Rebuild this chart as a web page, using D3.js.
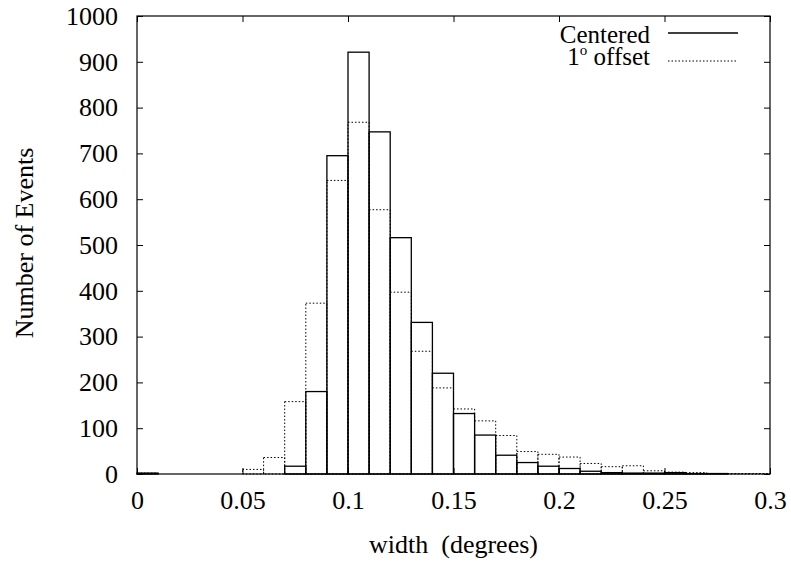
<!DOCTYPE html>
<html>
<head>
<meta charset="utf-8">
<script src="https://cdn.jsdelivr.net/npm/d3@7"></script>
<style>
  body { margin: 0; background: #fff; }
  text { font-family: "Liberation Serif", "Times New Roman", serif; fill: #000; }
</style>
</head>
<body>
<script>
// bin lower edges (width 0.01 degrees)
var binStarts = d3.range(0, 30).map(function(i) { return +(i * 0.01).toFixed(2); });
var binWidth = 0.01;

// Centered counts per bin
var centered = [2, 0, 0, 0, 0, 0, 0, 17, 180, 695,
                921, 747, 516, 331, 220, 132, 85, 41, 25, 17,
                12, 6, 3, 2, 2, 3, 1, 1, 0, 0];

// 1 degree offset counts per bin
var offset = [2, 0, 0, 0, 0, 10, 36, 158, 373, 641,
              768, 577, 397, 268, 188, 142, 116, 84, 49, 43,
              37, 23, 16, 18, 7, 4, 3, 1, 1, 1];

var xTicks = [0, 0.05, 0.1, 0.15, 0.2, 0.25, 0.3];
var yTicks = d3.range(0, 1001, 100);
var legendLabels = ["Centered", "1° offset"];

var svgWidth = 791;
var svgHeight = 562;

var margin = { top: 16, right: 21, bottom: 88, left: 137 };
var chartWidth = svgWidth - margin.left - margin.right;
var chartHeight = svgHeight - margin.top - margin.bottom;

var svg = d3.select("body")
  .append("svg")
  .attr("width", svgWidth)
  .attr("height", svgHeight)
  .attr("font-family", "'Liberation Serif', 'Times New Roman', serif");

var chartGroup = svg.append("g")
  .attr("transform", `translate(${margin.left}, ${margin.top})`);

var xScale = d3.scaleLinear().domain([0, 0.3]).range([0, chartWidth]);
var yScale = d3.scaleLinear().domain([0, 1000]).range([chartHeight, 0]);

// dotted boxes first
chartGroup.selectAll("rect.offset")
  .data(offset)
  .enter()
  .append("rect")
  .attr("class", "offset")
  .attr("x", (d, i) => xScale(binStarts[i]))
  .attr("width", (d, i) => xScale(binStarts[i] + binWidth) - xScale(binStarts[i]))
  .attr("y", d => yScale(d))
  .attr("height", d => chartHeight - yScale(d))
  .attr("fill", "none")
  .attr("stroke", "#000")
  .attr("stroke-width", 1)
  .attr("stroke-dasharray", "1.5,2");

// solid boxes
chartGroup.selectAll("rect.centered")
  .data(centered)
  .enter()
  .append("rect")
  .attr("class", "centered")
  .attr("x", (d, i) => xScale(binStarts[i]))
  .attr("width", (d, i) => xScale(binStarts[i] + binWidth) - xScale(binStarts[i]))
  .attr("y", d => yScale(d))
  .attr("height", d => chartHeight - yScale(d))
  .attr("fill", "none")
  .attr("stroke", "#000")
  .attr("stroke-width", 1.3);

// axes, ticks pointing inward
var leftAxis = d3.axisLeft(yScale).tickValues(yTicks).tickSizeInner(-6).tickSizeOuter(0).tickPadding(19)
  .tickFormat(d3.format("d"));
var bottomAxis = d3.axisBottom(xScale).tickValues(xTicks).tickSizeInner(-6).tickSizeOuter(0).tickPadding(17)
  .tickFormat(d => String(d));
var rightAxis = d3.axisRight(yScale).tickValues(yTicks).tickSizeInner(-6).tickSizeOuter(0).tickFormat("");
var topAxis = d3.axisTop(xScale).tickValues(xTicks).tickSizeInner(-6).tickSizeOuter(0).tickFormat("");

var axes = [
  chartGroup.append("g").call(leftAxis),
  chartGroup.append("g").attr("transform", `translate(0, ${chartHeight})`).call(bottomAxis),
  chartGroup.append("g").attr("transform", `translate(${chartWidth}, 0)`).call(rightAxis),
  chartGroup.append("g").call(topAxis)
];
axes.forEach(function(g) {
  g.attr("font-family", "'Liberation Serif', 'Times New Roman', serif").attr("font-size", 26);
  g.select(".domain").remove();
  g.selectAll("line").attr("stroke", "#000");
  g.selectAll("text").attr("fill", "#000");
});

// frame
chartGroup.append("rect")
  .attr("width", chartWidth)
  .attr("height", chartHeight)
  .attr("fill", "none")
  .attr("stroke", "#000")
  .attr("stroke-width", 1.2);

// axis titles
svg.append("text")
  .attr("x", margin.left + chartWidth / 2)
  .attr("y", 553)
  .attr("text-anchor", "middle")
  .style("font-size", "26px")
  .style("white-space", "pre")
  .text("width  (degrees)");

svg.append("text")
  .attr("transform", "translate(33, 243) rotate(-90)")
  .attr("text-anchor", "middle")
  .style("font-size", "26px")
  .text("Number of Events");

// legend
var legendRows = [
  { label: legendLabels[0], y: 43, lineY: 33, dash: null, width: 1.3 },
  { label: legendLabels[1], y: 65, lineY: 61, dash: "1.5,2", width: 1 }
];
var legend = svg.selectAll(".legend")
  .data(legendRows)
  .enter().append("g")
  .attr("class", "legend");

legend.append("text")
  .attr("x", 650)
  .attr("y", d => d.y)
  .attr("text-anchor", "end")
  .style("font-size", "25px")
  .each(function(d) {
    var t = d3.select(this);
    if (d.label.indexOf("°") >= 0) {
      t.append("tspan").text("1");
      t.append("tspan").attr("dy", -10).style("font-size", "15px").text("o");
      t.append("tspan").attr("dy", 10).text(" offset");
    } else {
      t.text(d.label);
    }
  });

legend.append("line")
  .attr("x1", 668)
  .attr("x2", 738)
  .attr("y1", d => d.lineY)
  .attr("y2", d => d.lineY)
  .attr("stroke", "#000")
  .attr("stroke-width", d => d.width)
  .attr("stroke-dasharray", d => d.dash);
</script>
</body>
</html>
